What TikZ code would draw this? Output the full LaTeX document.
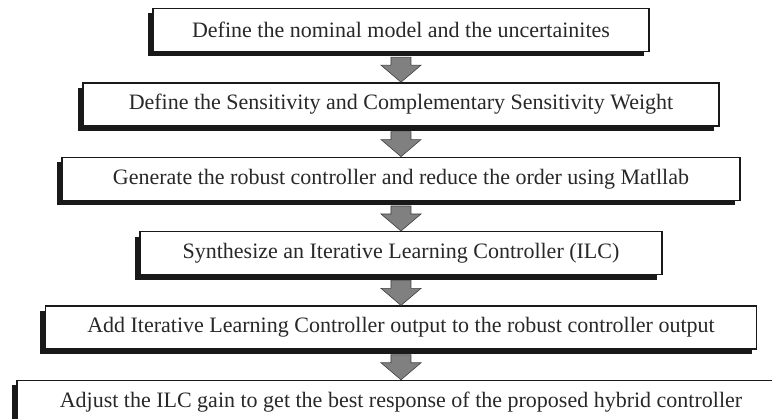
\documentclass[tikz,border=0pt]{standalone}
\usepackage{fontspec}
\setmainfont{Liberation Serif}
\usepackage{tikz}
\usetikzlibrary{positioning,shadows,calc}
\definecolor{arrowgray}{RGB}{128,128,128}
\definecolor{textgray}{RGB}{40,40,40}

\tikzset{
  stepbox/.style={draw=black!90,line width=1.4pt,fill=white,rectangle,
    minimum height=43pt,inner sep=0pt,text=textgray,
    font=\fontsize{22}{26}\selectfont,
    drop shadow={shadow xshift=-5pt,shadow yshift=-5pt,fill=black!90,opacity=1}},
  flowarrow/.style={fill=arrowgray,draw=black!75,line width=0.6pt,line join=miter}
}

\begin{document}
\begin{tikzpicture}[node distance=30pt]
  \useasboundingbox (-401pt,30pt) rectangle (371pt,-389pt);
  \node[stepbox,minimum width=496pt] (model)  at (0,0) {Define the nominal model and the uncertainites};
  \node[stepbox,minimum width=636pt] (weight) [below=of model]  {Define the Sensitivity and Complementary Sensitivity Weight};
  \node[stepbox,minimum width=678pt] (robust) [below=of weight] {Generate the robust controller and reduce the order using Matllab};
  \node[stepbox,minimum width=522pt] (ilc)    [below=of robust] {Synthesize an Iterative Learning Controller (ILC)};
  \node[stepbox,minimum width=711pt] (sum)    [below=of ilc]    {Add Iterative Learning Controller output to the robust controller output};
  \node[stepbox,minimum width=768pt] (gain)   [below=of sum]    {Adjust the ILC gain to get the best response of the proposed hybrid controller};

  \foreach \a/\b in {model/weight,weight/robust,robust/ilc,ilc/sum,sum/gain}
    \draw[flowarrow] ($(\a.south)+(-10pt,-5pt)$) -- ($(\b.north)+(-10pt,17pt)$)
      -- ($(\b.north)+(-20pt,17pt)$) -- (\b.north) -- ($(\b.north)+(20pt,17pt)$)
      -- ($(\b.north)+(10pt,17pt)$) -- ($(\a.south)+(10pt,-5pt)$) -- cycle;
\end{tikzpicture}
\end{document}
